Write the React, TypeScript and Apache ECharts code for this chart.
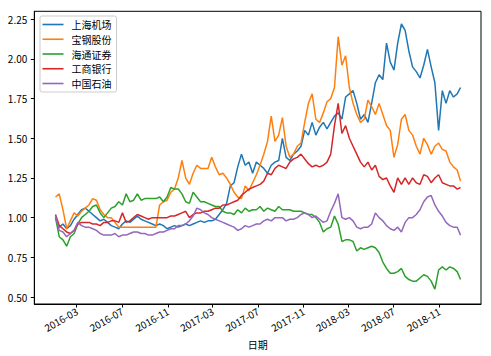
import React, { useEffect, useRef } from "react";
import * as echarts from "echarts";

const dates = [
  "2016-01-04","2016-01-14","2016-01-24","2016-02-03","2016-02-13","2016-02-23","2016-03-04","2016-03-14","2016-03-24","2016-04-03",
  "2016-04-13","2016-04-23","2016-05-03","2016-05-13","2016-05-23","2016-06-02","2016-06-12","2016-06-22","2016-07-02","2016-07-12",
  "2016-07-22","2016-08-01","2016-08-11","2016-08-21","2016-08-31","2016-09-10","2016-09-20","2016-09-30","2016-10-10","2016-10-20",
  "2016-10-30","2016-11-09","2016-11-19","2016-11-29","2016-12-09","2016-12-19","2016-12-29","2017-01-08","2017-01-18","2017-01-28",
  "2017-02-07","2017-02-17","2017-02-27","2017-03-09","2017-03-19","2017-03-29","2017-04-08","2017-04-18","2017-04-28","2017-05-08",
  "2017-05-18","2017-05-28","2017-06-07","2017-06-17","2017-06-27","2017-07-07","2017-07-17","2017-07-27","2017-08-06","2017-08-16",
  "2017-08-26","2017-09-05","2017-09-15","2017-09-25","2017-10-05","2017-10-15","2017-10-25","2017-11-04","2017-11-14","2017-11-24",
  "2017-12-04","2017-12-14","2017-12-24","2018-01-03","2018-01-13","2018-01-23","2018-02-02","2018-02-12","2018-02-22","2018-03-04",
  "2018-03-14","2018-03-24","2018-04-03","2018-04-13","2018-04-23","2018-05-03","2018-05-13","2018-05-23","2018-06-02","2018-06-12",
  "2018-06-22","2018-07-02","2018-07-12","2018-07-22","2018-08-01","2018-08-11","2018-08-21","2018-08-31","2018-09-10","2018-09-20",
  "2018-09-30","2018-10-10","2018-10-20","2018-10-30","2018-11-09","2018-11-19","2018-11-29","2018-12-09","2018-12-19","2018-12-28",
];

const shAirport = [
  1.00,0.94,0.96,0.93,0.95,0.99,1.02,1.05,1.06,1.04,
  1.02,1.00,0.98,0.99,0.97,0.95,0.94,0.93,0.96,0.98,
  0.97,0.99,1.01,0.99,0.98,0.97,0.96,0.95,0.96,0.95,
  0.93,0.94,0.95,0.94,0.95,0.96,0.95,0.96,0.97,0.98,
  0.97,0.98,0.98,0.99,1.02,1.05,1.09,1.20,1.22,1.32,
  1.40,1.33,1.35,1.28,1.35,1.33,1.31,1.28,1.33,1.35,
  1.36,1.50,1.38,1.36,1.40,1.42,1.45,1.55,1.52,1.60,
  1.52,1.57,1.60,1.56,1.60,1.64,1.66,1.62,1.76,1.78,
  1.80,1.72,1.62,1.65,1.60,1.72,1.85,1.90,1.87,2.10,
  1.98,1.93,2.10,2.22,2.18,2.05,1.95,1.92,1.88,1.96,
  2.06,1.95,1.85,1.55,1.80,1.72,1.80,1.76,1.78,1.82,
];

const baosteel = [
  1.13,1.15,1.05,0.93,0.98,1.03,1.01,1.04,1.06,1.08,
  1.12,1.11,1.05,1.02,1.00,1.00,0.97,0.94,0.94,0.94,
  0.94,0.94,0.94,0.94,0.94,0.94,0.94,0.94,1.08,1.10,
  1.11,1.16,1.18,1.25,1.36,1.25,1.21,1.28,1.33,1.31,
  1.31,1.31,1.38,1.32,1.27,1.28,1.25,1.21,1.16,1.13,
  1.12,1.20,1.17,1.22,1.27,1.33,1.40,1.48,1.64,1.48,
  1.52,1.63,1.45,1.38,1.40,1.45,1.47,1.60,1.72,1.78,
  1.62,1.60,1.66,1.73,1.75,1.82,2.14,1.96,2.02,1.82,
  1.72,1.65,1.60,1.62,1.74,1.70,1.65,1.72,1.65,1.58,
  1.55,1.38,1.46,1.62,1.65,1.55,1.52,1.45,1.40,1.50,
  1.46,1.40,1.45,1.47,1.43,1.42,1.35,1.32,1.30,1.23,
];

const haitong = [
  1.00,0.88,0.86,0.82,0.88,0.90,0.96,1.00,1.02,1.04,
  1.07,1.08,1.03,1.00,1.03,1.06,1.07,1.10,1.08,1.15,
  1.10,1.11,1.15,1.11,1.12,1.12,1.12,1.12,1.13,1.10,
  1.13,1.19,1.18,1.18,1.15,1.10,1.09,1.16,1.13,1.10,
  1.10,1.09,1.08,1.07,1.07,1.04,1.03,1.03,1.02,1.05,
  1.03,1.06,1.04,1.05,1.05,1.07,1.04,1.06,1.05,1.04,
  1.07,1.05,1.05,1.05,1.04,1.04,1.04,1.03,1.02,1.02,
  1.00,0.97,0.91,0.93,0.94,1.01,0.96,0.85,0.86,0.86,
  0.85,0.79,0.81,0.80,0.81,0.82,0.81,0.78,0.72,0.68,
  0.65,0.65,0.66,0.68,0.63,0.61,0.60,0.60,0.62,0.64,
  0.63,0.60,0.55,0.67,0.69,0.67,0.69,0.68,0.66,0.61,
];

const icbc = [
  1.02,0.95,0.93,0.91,0.90,0.92,0.96,0.97,0.97,0.97,
  0.96,0.96,0.95,0.97,0.97,0.98,0.98,0.97,1.03,0.97,
  0.98,1.00,1.02,1.01,1.00,0.99,1.00,1.00,1.00,1.00,
  1.00,1.01,1.01,1.02,1.03,1.04,1.00,1.02,1.03,1.03,
  1.04,1.04,1.05,1.06,1.06,1.08,1.08,1.09,1.10,1.11,
  1.14,1.16,1.18,1.19,1.20,1.21,1.23,1.28,1.27,1.31,
  1.33,1.32,1.31,1.35,1.37,1.38,1.40,1.37,1.34,1.32,
  1.33,1.32,1.33,1.35,1.40,1.58,1.72,1.53,1.58,1.50,
  1.45,1.40,1.35,1.32,1.35,1.30,1.33,1.26,1.24,1.25,
  1.20,1.16,1.25,1.21,1.25,1.21,1.25,1.22,1.21,1.27,
  1.26,1.22,1.25,1.27,1.22,1.21,1.20,1.20,1.18,1.19,
];

const petrochina = [
  1.01,0.92,0.91,0.88,0.90,0.92,0.97,0.95,0.94,0.94,
  0.93,0.92,0.90,0.89,0.89,0.89,0.90,0.88,0.89,0.89,
  0.90,0.91,0.91,0.90,0.90,0.89,0.89,0.90,0.91,0.91,
  0.92,0.93,0.93,0.95,0.95,0.96,0.98,1.01,1.06,1.05,
  1.03,1.02,1.00,0.99,0.98,0.97,0.96,0.95,0.94,0.92,
  0.93,0.95,0.94,0.95,0.96,0.96,0.98,0.99,0.98,1.00,
  1.00,1.00,0.98,0.99,0.99,1.00,1.02,1.03,1.02,1.00,
  1.01,0.99,0.97,0.98,1.04,1.09,1.15,1.00,0.99,1.00,
  0.98,0.94,0.93,0.94,0.94,0.96,1.03,1.00,0.98,0.95,
  0.93,0.92,0.94,0.91,0.97,1.00,1.00,1.02,1.05,1.10,
  1.13,1.14,1.08,1.04,1.01,0.97,0.95,0.94,0.94,0.89,
];

const seriesNames = ["上海机场", "宝钢股份", "海通证券", "工商银行", "中国石油"];
const seriesValues = [shAirport, baosteel, haitong, icbc, petrochina];
const colors = ["#1f77b4", "#ff7f0e", "#2ca02c", "#d62728", "#9467bd"];

const xTickLabels = [
  "2016-03", "2016-07", "2016-11", "2017-03", "2017-07", "2017-11", "2018-03", "2018-07", "2018-11",
];
const yTicks = [0.5, 0.75, 1.0, 1.25, 1.5, 1.75, 2.0, 2.25];
const xRange = ["2015-11-08", "2019-02-21"];

const FONT = "'Noto Sans CJK SC', 'DejaVu Sans', sans-serif";

function toTime(s: string): number {
  const p = s.split("-").map(Number);
  return new Date(p[0], (p[1] || 1) - 1, p[2] || 1).getTime();
}

export default function App() {
  const ref = useRef<HTMLDivElement>(null);
  useEffect(() => {
    if (!ref.current) return;
    const chart = echarts.init(ref.current, null, { renderer: "svg" });
    const xTicks = xTickLabels.map(toTime);
    const pad2 = (n: number) => (n < 10 ? "0" + n : "" + n);
    chart.setOption({
      animation: false,
      backgroundColor: "#ffffff",
      textStyle: { fontFamily: FONT },
      grid: {
        left: 34.3,
        right: 10,
        top: 11.3,
        bottom: 52,
        show: true,
        borderColor: "#000",
        borderWidth: 1,
        backgroundColor: "transparent",
      },
      legend: {
        orient: "vertical",
        left: 40,
        top: 16,
        padding: [2.5, 5, 2.5, 2.5],
        icon: "rect",
        itemWidth: 21,
        itemHeight: 1.6,
        itemGap: 2.75,
        backgroundColor: "rgba(255,255,255,0.8)",
        borderColor: "#cccccc",
        borderWidth: 1,
        borderRadius: 2,
        textStyle: {
          fontFamily: FONT,
          fontSize: 10,
          lineHeight: 12,
          color: "#000",
          padding: [0, 0, 0, 3],
        },
        data: seriesNames,
      },
      xAxis: {
        type: "value",
        min: toTime(xRange[0]),
        max: toTime(xRange[1]),
        name: "日期",
        nameLocation: "middle",
        nameGap: 33,
        nameTextStyle: { fontFamily: FONT, fontSize: 10, color: "#000" },
        axisLine: { show: true, lineStyle: { color: "#000", width: 1 } },
        axisTick: {
          show: true,
          length: 3.5,
          lineStyle: { color: "#000", width: 1 },
          customValues: xTicks,
        },
        axisLabel: {
          show: true,
          rotate: 30,
          margin: 6,
          fontFamily: FONT,
          fontSize: 10,
          color: "#000",
          customValues: xTicks,
          formatter: (v: number) => {
            const d = new Date(v);
            return d.getFullYear() + "-" + pad2(d.getMonth() + 1);
          },
        },
        splitLine: { show: false },
      },
      yAxis: {
        type: "value",
        min: 0.456,
        max: 2.3,
        axisLine: { show: true, lineStyle: { color: "#000", width: 1 } },
        axisTick: {
          show: true,
          length: 3.5,
          lineStyle: { color: "#000", width: 1 },
          customValues: yTicks,
        },
        axisLabel: {
          show: true,
          margin: 7,
          fontFamily: FONT,
          fontSize: 10,
          color: "#000",
          customValues: yTicks,
          formatter: (v: number) => v.toFixed(2),
        },
        splitLine: { show: false },
      },
      series: seriesNames.map((name, k) => ({
        name,
        type: "line",
        symbol: "none",
        showSymbol: false,
        color: colors[k],
        lineStyle: { width: 1.5, color: colors[k] },
        data: dates.map((d, i) => [toTime(d), seriesValues[k][i]]),
      })),
    });
    return () => chart.dispose();
  }, []);
  return (
    <div
      ref={ref}
      style={{ position: "fixed", left: 0, top: 0, width: 491, height: 356 }}
    />
  );
}
